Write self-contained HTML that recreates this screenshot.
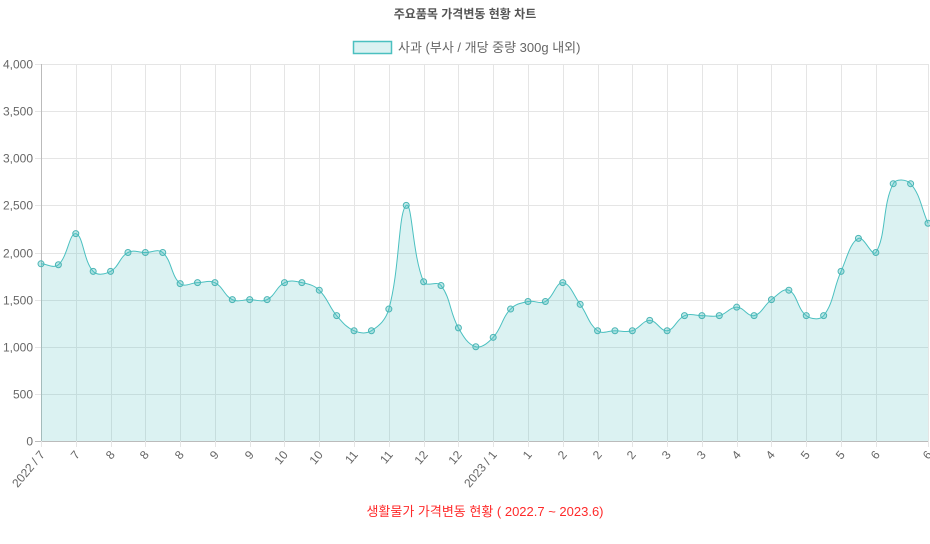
<!DOCTYPE html>
<html><head><meta charset="utf-8"><style>
body{margin:0;background:#fff;}
svg{display:block;font-family:"Liberation Sans","Noto Sans CJK KR",sans-serif;}
</style></head><body>
<svg id="c" width="930" height="544"></svg>
<script>
const labels=["2022 / 7","7","7","7","8","8","8","8","8","9","9","9","9","9","10","10","10","10","11","11","11","11","12","12","12","12","2023 / 1","1","1","1","2","2","2","2","2","3","3","3","3","3","4","4","4","4","5","5","5","5","6","6","6","6"];
const values=[1880,1870,2200,1800,1800,2000,2000,2000,1670,1680,1680,1500,1500,1500,1680,1680,1600,1330,1170,1170,1400,2500,1690,1650,1200,1000,1100,1400,1480,1480,1680,1450,1170,1170,1170,1280,1170,1330,1330,1330,1420,1330,1500,1600,1330,1330,1800,2150,2000,2730,2730,2310];
const yTicks=[0,500,1000,1500,2000,2500,3000,3500,4000];
const yTickLabels=["0","500","1,000","1,500","2,000","2,500","3,000","3,500","4,000"];
const NS="http://www.w3.org/2000/svg";
const svg=document.getElementById('c');
const L=41,R=928,T=64,B=441;
const xs=i=>L+(R-L)*i/(values.length-1);
const ys=v=>B-(B-T)*v/4000;
function mk(t,a,p){const e=document.createElementNS(NS,t);for(const k in a)e.setAttribute(k,a[k]);(p||svg).appendChild(e);return e;}
let t=mk('text',{x:465,y:18,'text-anchor':'middle','font-size':12,'font-weight':'bold',fill:'#555'});t.textContent='주요품목 가격변동 현황 차트';


let lb=mk('rect',{x:353.5,y:41.5,width:38,height:12,fill:'rgba(75,192,192,0.2)',stroke:'#4bc0c0','stroke-width':1.5});


t=mk('text',{x:398,y:52,'font-size':13,fill:'#666'});t.textContent='사과 (부사 / 개당 중량 300g 내외)';


yTicks.forEach((v,i)=>{
 const y=Math.round(ys(v))+0.5;
 const g=mk('line',{x1:L-6,x2:R,y1:y,y2:y,stroke:v===0?'#bbb':'#e5e5e5'});
 
 
 const tx=mk('text',{x:33,y:y+4,'text-anchor':'end','font-size':12,fill:'#666'});tx.textContent=yTickLabels[i];
 
 
});
const shown=[];for(let i=0;i<values.length-2;i+=2)shown.push(i);shown.push(values.length-1);
shown.forEach(i=>{
 const x=Math.round(xs(i))+0.5;
 const g=mk('line',{x1:x,x2:x,y1:T,y2:B+6,stroke:'#e5e5e5'});
 
 
 const tx=mk('text',{x:0,y:0,'text-anchor':'end','font-size':12,fill:'#666',transform:`translate(${x+4},${B+14}) rotate(-50)`});tx.textContent=labels[i];
 
 
});
mk('line',{x1:L+0.5,x2:L+0.5,y1:T,y2:B,stroke:'#bbb'});
const pts=values.map((v,i)=>({x:xs(i),y:ys(v)}));
const tension=0.4;
const cps=pts.map((p,i)=>{
 const pr=pts[i-1]||p,nx=pts[i+1]||p;
 const d01=Math.hypot(p.x-pr.x,p.y-pr.y),d12=Math.hypot(nx.x-p.x,nx.y-p.y);
 let fa=d01/(d01+d12)||0,fb=d12/(d01+d12)||0;
 fa*=tension;fb*=tension;
 return{px:p.x-fa*(nx.x-pr.x),py:p.y-fa*(nx.y-pr.y),nx:p.x+fb*(nx.x-pr.x),ny:p.y+fb*(nx.y-pr.y)};
});
let d=`M${pts[0].x},${pts[0].y}`;
for(let i=1;i<pts.length;i++){d+=` C${cps[i-1].nx},${cps[i-1].ny} ${cps[i].px},${cps[i].py} ${pts[i].x},${pts[i].y}`;}
const area=mk('path',{d:d+` L${R},${B} L${L},${B} Z`,fill:'rgba(75,192,192,0.2)'});


const line=mk('path',{d:d,fill:'none',stroke:'#4bc0c0','stroke-width':1});


pts.forEach(p=>{
 const c=mk('circle',{cx:p.x,cy:p.y,r:3,fill:'rgba(75,192,192,0.35)',stroke:'#4bb5b5','stroke-width':1});
 
 
});
t=mk('text',{x:485,y:516,'text-anchor':'middle','font-size':13,fill:'#ff2a2a'});t.textContent='생활물가 가격변동 현황 ( 2022.7 ~ 2023.6)';


</script>
</body></html>
